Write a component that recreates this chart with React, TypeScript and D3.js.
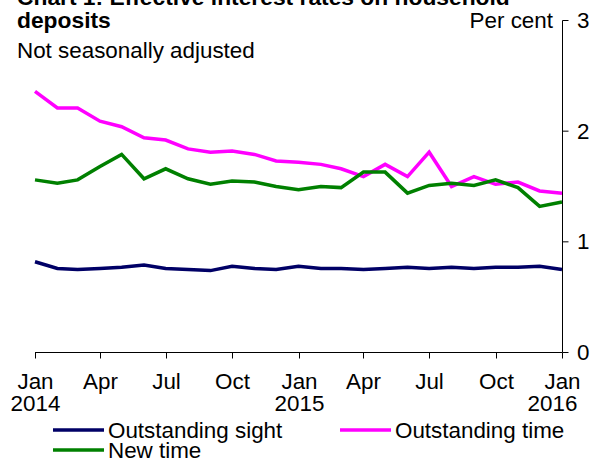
import React from "react";
import * as d3 from "d3";

const months: string[] = [
  "2014-01","2014-02","2014-03","2014-04","2014-05","2014-06","2014-07","2014-08","2014-09","2014-10","2014-11","2014-12",
  "2015-01","2015-02","2015-03","2015-04","2015-05","2015-06","2015-07","2015-08","2015-09","2015-10","2015-11","2015-12",
  "2016-01",
];

const outstandingSight: number[] = [
  0.82, 0.76, 0.75, 0.76, 0.77, 0.79, 0.76, 0.75, 0.74, 0.78, 0.76, 0.75,
  0.78, 0.76, 0.76, 0.75, 0.76, 0.77, 0.76, 0.77, 0.76, 0.77, 0.77, 0.78,
  0.75,
];

const outstandingTime: number[] = [
  2.36, 2.21, 2.21, 2.09, 2.04, 1.94, 1.92, 1.84, 1.81, 1.82, 1.79, 1.73,
  1.72, 1.70, 1.66, 1.59, 1.70, 1.59, 1.81, 1.50, 1.59, 1.52, 1.54, 1.46,
  1.44,
];

const newTime: number[] = [
  1.56, 1.53, 1.56, 1.68, 1.79, 1.57, 1.66, 1.57, 1.52, 1.55, 1.54, 1.50,
  1.47, 1.50, 1.49, 1.63, 1.63, 1.44, 1.51, 1.53, 1.51, 1.56, 1.49, 1.32,
  1.36,
];

const yTicks: number[] = [0, 1, 2, 3];
const xTickMonths: string[] = ["2014-01","2014-04","2014-07","2014-10","2015-01","2015-04","2015-07","2015-10","2016-01"];
const xTickLabels: string[] = ["Jan","Apr","Jul","Oct","Jan","Apr","Jul","Oct","Jan"];
const xTickYears: string[] = ["2014","","","","2015","","","","2016"];

const seriesNames: string[] = ["Outstanding sight", "Outstanding time", "New time"];
const seriesColors: string[] = ["#000066", "#ff00ff", "#008000"];

const FONT = "'Liberation Sans', Arial, sans-serif";
const FS = 22.4;

export default function App() {
  const W = 595, H = 459;
  const parse = d3.timeParse("%Y-%m");
  const dates = months.map((m) => parse(m) as Date);
  const x = d3.scaleTime().domain([dates[0], dates[dates.length - 1]]).range([35, 562]);
  const y = d3.scaleLinear().domain([0, 3]).range([352.5, 20.5]);

  const line = d3
    .line<number>()
    .x((_, i) => x(dates[i]))
    .y((v) => y(v));

  const series = [outstandingSight, outstandingTime, newTime];
  const drawOrder = [0, 1, 2];

  return (
    <svg
      width={W}
      height={H}
      style={{ position: "absolute", left: 0, top: 0, background: "#fff" }}
      fontFamily={FONT}
    >
      <rect x={0} y={0} width={W} height={H} fill="#fff" />
      <text x={17} y={5} fontSize={22.8} fontWeight="bold">
        Chart 1: Effective interest rates on household
      </text>
      <text x={17} y={28} fontSize={22.8} fontWeight="bold">
        deposits
      </text>
      <text x={17} y={57.5} fontSize={FS}>
        Not seasonally adjusted
      </text>
      <text x={553} y={27.5} fontSize={FS} textAnchor="end">
        Per cent
      </text>

      {/* y axis on right */}
      <line x1={562.5} x2={562.5} y1={y(3)} y2={y(0)} stroke="#000" strokeWidth={1} />
      {yTicks.map((t) => (
        <g key={t}>
          <line x1={562.5} x2={568.5} y1={y(t)} y2={y(t)} stroke="#000" strokeWidth={1} />
          <text x={577} y={y(t) + 7.5} fontSize={FS}>
            {t}
          </text>
        </g>
      ))}

      {/* x axis */}
      <line x1={x(dates[0])} x2={x(dates[dates.length - 1])} y1={y(0)} y2={y(0)} stroke="#000" strokeWidth={1} />
      {xTickMonths.map((m, i) => {
        const xv = Math.round(x(parse(m) as Date)) + 0.5;
        return (
          <g key={m}>
            <line x1={xv} x2={xv} y1={y(0)} y2={y(0) + 6} stroke="#000" strokeWidth={1} />
            <text x={xv} y={389} fontSize={FS} textAnchor="middle">
              {xTickLabels[i]}
            </text>
            {xTickYears[i] && (
              <text x={i === xTickMonths.length - 1 ? xv - 10 : xv} y={411} fontSize={FS} textAnchor="middle">
                {xTickYears[i]}
              </text>
            )}
          </g>
        );
      })}

      {/* lines */}
      {drawOrder.map((s) => (
        <path
          key={s}
          d={line(series[s]) || ""}
          fill="none"
          stroke={seriesColors[s]}
          strokeWidth={3.5}
          strokeLinejoin="miter"
        />
      ))}

      {/* legend */}
      {[
        { s: 0, lx: 53, ly: 430 },
        { s: 1, lx: 340, ly: 430 },
        { s: 2, lx: 53, ly: 450 },
      ].map(({ s, lx, ly }) => (
        <g key={s}>
          <line x1={lx} x2={lx + 51} y1={ly} y2={ly} stroke={seriesColors[s]} strokeWidth={3.5} />
          <text x={lx + 55} y={ly + 8} fontSize={FS}>
            {seriesNames[s]}
          </text>
        </g>
      ))}
    </svg>
  );
}
